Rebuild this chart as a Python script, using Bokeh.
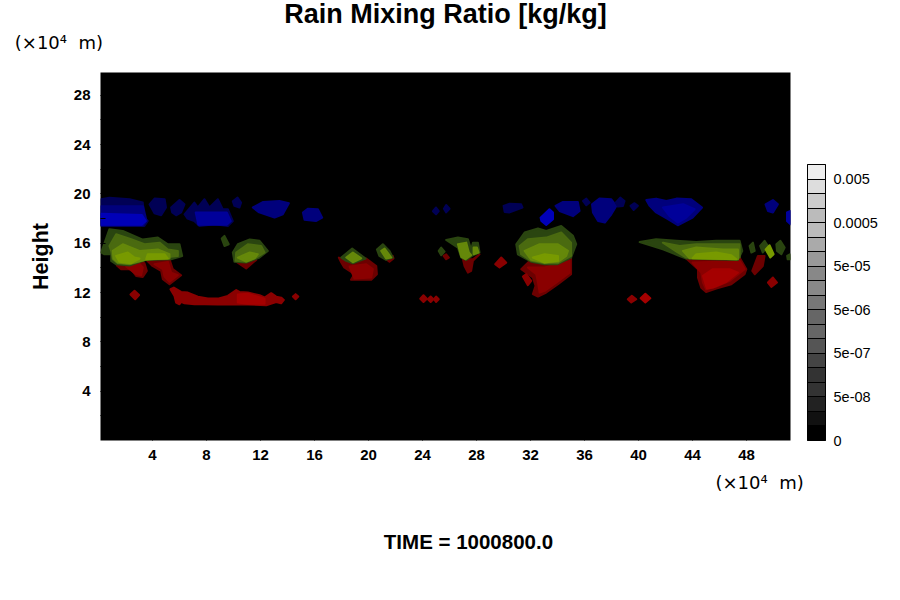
from bokeh.embed import file_html
from bokeh.models import ColorBar, FixedTicker, Label, LinearColorMapper, Range1d
from bokeh.plotting import figure
from bokeh.resources import INLINE

# rain outlines, x and height in units of 10^4 m
# each family goes from faint outer shapes to bright inner ones
red_xs = [
    [1.36, 2.42, 2.91, 3.41, 3.58, 3.28, 2.79, 2.42, 1.68],
    [3.58, 5.26, 5.5, 6.12, 5.26, 4.77, 4.64, 4.0],
    [10.2, 11.68, 10.94],
    [17.8, 18.35, 18.84, 19.83, 20.57, 20.62, 20.2, 18.7, 18.96, 18.2, 17.98],
    [21.38, 21.8, 21.85, 21.55],
    [26.99, 27.73, 28.22, 27.73, 27.6, 27.36, 27.11],
    [25.56, 25.75, 25.95, 25.75],
    [31.31, 31.93, 33.04, 34.03, 35.0, 35.0, 34.03, 33.16, 32.55, 32.17, 32.37, 32.17],
    [43.53, 47.36, 47.48, 47.98, 47.85, 46.87, 45.75, 45.0, 44.64, 44.4, 44.4],
    [48.42, 48.84, 49.33, 49.2, 48.6],
    [2.05, 2.91, 3.28, 3.16, 2.79],
    [4.15, 5.14, 5.38, 5.88, 5.26, 4.89, 4.77],
    [18.6, 19.83, 20.32, 20.2, 18.96],
    [31.8, 33.04, 34.89, 34.89, 33.9, 33.04, 32.67, 32.55, 32.42],
    [44.0, 47.48, 47.85, 46.74, 45.75, 45.0, 44.77, 44.64],
    [44.77, 45.5, 46.74, 47.36, 46.5, 45.5, 45.06],
    [2.37, 2.67, 3.01, 2.72],
    [5.33, 5.58, 6.12, 6.62, 7.36, 8.1, 8.84, 9.58, 10.2, 10.44, 11.06, 11.93, 12.3, 12.79, 13.16,
     13.53, 13.73, 13.53, 13.16, 12.42, 11.06, 9.83, 8.84, 7.85, 7.11, 6.37, 6.12, 6.0, 5.75, 5.63],
    [10.32, 11.06, 12.3, 12.3, 11.06, 10.32],
    [14.4, 14.6, 14.8, 14.6],
    [23.83, 24.07, 24.32, 24.07],
    [24.4, 24.6, 24.8, 24.6],
    [24.84, 25.0, 25.2, 25.0],
    [29.38, 29.83, 30.2, 29.7],
    [31.43, 31.68, 32.05, 31.8],
    [39.2, 39.5, 39.83, 39.46],
    [40.15, 40.5, 40.87, 40.5],
    [49.58, 49.95, 50.25, 49.83],
]
red_ys = [
    [14.2, 14.3, 14.76, 14.38, 13.76, 13.27, 13.35, 13.9, 13.9],
    [14.62, 14.7, 13.9, 13.4, 12.68, 13.08, 13.76, 14.16],
    [14.5, 14.65, 13.95],
    [14.84, 14.5, 14.38, 14.76, 14.16, 13.49, 13.03, 13.03, 13.49, 14.03, 14.43],
    [14.65, 14.97, 14.76, 14.5],
    [14.7, 14.7, 15.1, 14.57, 13.76, 13.62, 14.16],
    [14.97, 15.1, 14.84, 14.7],
    [13.9, 14.57, 14.22, 14.3, 14.84, 13.49, 12.68, 12.0, 11.68, 11.87, 12.54, 13.22],
    [14.76, 14.65, 14.84, 13.9, 13.49, 12.68, 12.33, 12.05, 12.4, 13.2, 13.9],
    [13.76, 14.97, 14.97, 14.16, 13.49],
    [14.11, 14.49, 14.03, 13.41, 13.49],
    [14.3, 14.49, 13.62, 13.4, 12.87, 13.3, 13.9],
    [14.11, 14.3, 13.9, 13.22, 13.14],
    [14.03, 14.03, 14.57, 13.62, 12.81, 12.14, 12.0, 12.81, 13.49],
    [14.43, 14.57, 13.9, 12.95, 12.49, 12.27, 12.81, 13.62],
    [13.35, 13.9, 13.9, 13.62, 12.87, 12.41, 12.33],
    [11.84, 12.14, 11.8, 11.46],
    [12.27, 12.4, 12.05, 12.0, 11.67, 11.51, 11.51, 11.73, 12.2, 12.05, 12.0, 11.78, 11.6, 11.95, 11.67,
     11.59, 11.4, 11.13, 11.24, 10.97, 11.03, 11.05, 11.03, 11.05, 11.05, 11.13, 11.24, 11.05, 11.19, 11.73],
    [11.85, 11.9, 11.5, 11.1, 11.1, 11.2],
    [11.68, 11.87, 11.68, 11.46],
    [11.5, 11.78, 11.5, 11.24],
    [11.46, 11.68, 11.46, 11.24],
    [11.46, 11.68, 11.46, 11.24],
    [14.3, 14.84, 14.43, 14.03],
    [13.3, 13.49, 12.95, 12.6],
    [11.46, 11.73, 11.46, 11.2],
    [11.54, 11.9, 11.54, 11.2],
    [12.81, 13.22, 12.81, 12.46],
]
red_levels = [0, 0, 0, 0, 0, 0, 0, 0, 0, 0, 1, 1, 1, 1, 1, 2, 1, 1, 2, 1, 1, 1, 1, 1, 1, 1, 2, 1]

green_xs = [
    [0.2, 0.81, 1.8, 3.28, 4.4, 5.14, 6.0, 6.2, 5.38, 3.53, 2.3, 1.3, 0.94, 0.94, 0.44],
    [9.95, 10.32, 11.2, 11.93, 12.54, 11.93, 10.94, 10.07],
    [17.98, 18.79, 19.78, 18.84, 18.35],
    [20.62, 21.06, 21.55, 21.8, 21.3, 20.8],
    [9.13, 9.33, 9.65, 9.33],
    [25.2, 25.38, 25.63, 25.38],
    [25.75, 26.62, 27.36, 27.6, 27.73, 28.1, 28.22, 27.73, 27.24, 26.87, 26.62],
    [30.94, 31.56, 32.55, 33.16, 34.27, 35.14, 35.38, 35.0, 34.0, 33.04, 32.05, 31.06],
    [40.08, 41.3, 42.8, 44.27, 45.75, 47.48, 47.68, 47.36, 43.53, 42.9, 41.8],
    [48.22, 48.47, 48.6, 48.35],
    [49.0, 49.33, 49.58, 49.2],
    [50.2, 50.5, 50.82, 50.57, 50.25],
    [51.0, 51.2, 51.25, 51.04],
    [0.81, 1.31, 2.42, 3.41, 4.52, 5.14, 5.88, 5.88, 3.65, 2.3, 1.43, 1.06, 0.94],
    [10.2, 11.06, 12.05, 12.3, 11.68, 10.94, 10.15],
    [31.19, 31.8, 33.16, 34.27, 35.0, 35.0, 34.03, 33.04, 32.05, 31.3],
    [41.8, 43.04, 44.27, 46.25, 47.48, 47.48, 43.53, 42.9],
    [1.06, 1.8, 3.04, 4.4, 5.26, 5.26, 3.53, 2.3, 1.43, 1.11],
    [10.32, 11.2, 11.8, 11.56, 10.94],
    [18.35, 18.84, 19.46, 18.84],
    [20.94, 21.19, 21.68, 21.3],
    [26.62, 27.24, 27.43, 27.6, 27.19, 26.87],
    [27.78, 28.03, 28.15, 27.78],
    [31.56, 32.67, 34.03, 34.77, 34.64, 34.03, 33.04, 32.05],
    [43.28, 44.27, 46.25, 47.36, 47.36, 43.78],
    [49.41, 49.7, 50.0, 49.75],
    [1.31, 2.17, 2.67, 3.04, 2.42, 1.55],
    [3.65, 4.89, 5.14, 3.53],
    [32.17, 33.04, 34.03, 34.03, 33.04],
    [44.27, 45.75, 46.87, 47.24, 44.0],
]
green_ys = [
    [15.25, 17.14, 17.0, 16.3, 16.46, 15.92, 15.92, 14.97, 14.7, 14.65, 14.2, 14.3, 14.57, 15.1, 15.1],
    [15.25, 15.92, 16.3, 16.2, 15.38, 14.84, 14.43, 14.5],
    [14.84, 15.57, 14.76, 14.38, 14.57],
    [15.5, 15.92, 15.38, 14.84, 14.65, 14.97],
    [16.38, 16.6, 15.92, 15.78],
    [15.38, 15.65, 15.32, 15.03],
    [16.27, 16.46, 16.33, 15.5, 16.05, 16.05, 15.25, 15.03, 14.65, 14.84, 15.65],
    [15.92, 16.87, 17.2, 17.0, 17.4, 16.6, 15.92, 14.84, 14.3, 14.3, 14.5, 15.1],
    [16.1, 16.33, 16.2, 16.1, 16.2, 16.2, 15.38, 14.65, 14.76, 15.03, 15.5],
    [15.78, 16.05, 15.38, 15.25],
    [15.78, 16.2, 15.78, 15.25],
    [15.92, 16.2, 15.65, 15.11, 15.38],
    [14.97, 15.11, 14.7, 14.7],
    [15.78, 16.73, 16.33, 15.92, 16.05, 15.5, 15.38, 14.97, 14.7, 14.3, 14.38, 14.7, 15.38],
    [15.25, 15.92, 15.78, 15.25, 14.84, 14.49, 14.57],
    [15.78, 16.33, 16.46, 16.87, 16.05, 14.97, 14.38, 14.38, 14.57, 15.11],
    [16.05, 15.78, 15.92, 15.92, 15.92, 14.84, 14.84, 15.25],
    [15.38, 15.92, 15.38, 15.5, 15.11, 14.76, 14.68, 14.33, 14.43, 14.76],
    [14.84, 15.25, 15.11, 14.78, 14.51],
    [14.84, 15.25, 14.78, 14.46],
    [15.38, 15.57, 14.84, 14.76],
    [15.92, 16.05, 15.25, 15.03, 14.7, 14.89],
    [15.65, 15.65, 15.25, 15.11],
    [15.38, 15.92, 15.92, 15.38, 14.97, 14.49, 14.43, 14.65],
    [15.38, 15.65, 15.5, 15.5, 14.7, 14.78],
    [15.5, 15.84, 15.11, 14.84],
    [14.97, 15.25, 14.84, 14.76, 14.38, 14.49],
    [15.11, 15.11, 14.76, 14.7],
    [14.84, 15.11, 14.97, 14.57, 14.43],
    [15.11, 15.25, 15.03, 14.7, 14.78],
]
green_levels = [0, 0, 0, 0, 0, 0, 0, 0, 0, 0, 0, 0, 0, 1, 1, 1, 1, 2, 2, 2, 2, 2, 2, 2, 2, 3, 3, 3, 3, 3]

blue_xs = [
    [0.2, 0.81, 2.3, 3.28, 3.4, 3.65, 3.4, 0.2],
    [3.78, 4.15, 4.9, 5.0, 4.64, 4.15],
    [5.38, 6.0, 6.37, 6.12, 5.75, 5.46],
    [6.37, 7.1, 7.36, 7.85, 8.22, 8.84, 9.2, 9.58, 9.95, 9.58, 8.6, 7.48, 7.1, 6.6],
    [9.95, 10.3, 10.56, 10.44, 10.07],
    [11.43, 12.2, 13.4, 14.1, 13.65, 13.04, 11.9],
    [15.14, 15.5, 16.25, 16.57, 16.1, 15.26],
    [24.77, 25.0, 25.2, 25.0],
    [25.58, 25.75, 26.0, 25.75],
    [30.0, 30.45, 31.3, 31.4, 30.45, 30.08],
    [33.85, 34.4, 35.5, 35.63, 35.14, 34.15],
    [35.88, 36.13, 36.37, 36.13],
    [36.55, 37.1, 37.98, 38.35, 37.98, 37.5, 37.0, 36.62],
    [38.3, 38.64, 38.96, 38.84, 38.47],
    [39.4, 39.7, 39.95, 39.63],
    [40.57, 41.3, 42.05, 42.8, 43.9, 44.7, 44.0, 42.9, 42.17, 41.3, 40.82],
    [49.4, 49.95, 50.32, 49.95, 49.58],
    [50.99, 51.25, 51.25, 50.99],
    [0.2, 3.3, 3.55, 3.3, 0.2],
    [7.2, 9.5, 9.8, 9.5, 7.4],
    [41.8, 43.3, 44.15, 43.53, 42.9, 42.3],
    [0.2, 3.2, 3.5, 3.2, 0.2],
    [32.74, 33.4, 33.66, 33.66, 33.16, 32.8],
]
blue_ys = [
    [19.57, 19.7, 19.57, 19.3, 18.08, 17.8, 17.4, 17.4],
    [19.16, 19.62, 19.57, 18.9, 18.27, 18.43],
    [18.9, 19.5, 19.16, 18.5, 18.27, 18.5],
    [18.35, 19.3, 18.9, 19.57, 18.9, 19.57, 18.76, 18.76, 17.8, 17.4, 17.54, 17.4, 17.8, 18.0],
    [19.4, 19.7, 19.3, 18.9, 19.03],
    [18.9, 19.35, 19.43, 19.25, 18.35, 18.08, 18.5],
    [18.5, 18.8, 18.76, 18.08, 17.8, 17.9],
    [18.6, 18.9, 18.6, 18.35],
    [18.8, 19.1, 18.8, 18.5],
    [19.03, 19.2, 19.16, 18.9, 18.5, 18.54],
    [19.03, 19.35, 19.35, 18.62, 18.2, 18.62],
    [19.43, 19.62, 19.3, 19.08],
    [19.16, 19.62, 19.57, 19.03, 18.35, 17.68, 17.8, 18.5],
    [19.3, 19.7, 19.43, 19.03, 18.97],
    [19.03, 19.25, 19.03, 18.7],
    [19.5, 19.62, 19.43, 19.62, 19.57, 18.9, 18.08, 17.46, 17.95, 18.5, 19.03],
    [19.16, 19.5, 19.16, 18.5, 18.62],
    [18.5, 18.62, 17.54, 17.8],
    [19.0, 19.0, 17.85, 17.45, 17.45],
    [18.5, 18.5, 17.8, 17.5, 17.5],
    [18.9, 19.16, 18.76, 18.08, 17.68, 18.2],
    [18.4, 18.3, 17.8, 17.5, 17.5],
    [18.08, 18.76, 18.5, 17.95, 17.49, 17.8],
]
blue_levels = [0, 0, 0, 0, 0, 1, 1, 0, 0, 0, 1, 0, 1, 0, 0, 1, 1, 2, 1, 2, 2, 3, 3]

red_shades = ["#6c0000", "#8a0000", "#a50000"]
green_shades = ["#2a4510", "#4a6a10", "#65880a", "#789a00"]
blue_shades = ["#000055", "#00007c", "#00009a", "#0000b8"]

x_ticks = [4, 8, 12, 16, 20, 24, 28, 32, 36, 40, 44, 48]
y_ticks = [4, 8, 12, 16, 20, 24, 28]
y_minor_ticks = [2, 6, 10, 14, 18, 22, 26]

bar_shades = ["#000000", "#111111", "#222222", "#333333", "#333333", "#444444", "#555555", "#666666",
              "#666666", "#777777", "#888888", "#888888", "#999999", "#aaaaaa", "#bbbbbb", "#bbbbbb",
              "#cccccc", "#dddddd", "#eeeeee"]
bar_labels = {0: "0", 3: "5e-08", 6: "5e-07", 9: "5e-06", 12: "5e-05", 15: "0.0005", 18: "0.005"}

FONT = "Liberation Sans"
UNIT = "(×10⁴\u00a0\u00a0m)"

p = figure(width=884, height=584, output_backend="svg", toolbar_location=None,
           x_range=Range1d(0.15, 51.25), y_range=Range1d(0, 29.85),
           background_fill_color="black", border_fill_color="white",
           min_border_left=100, min_border_right=94, min_border_top=72, min_border_bottom=144)
p.grid.visible = False
p.outline_line_color = None

# round thin outline in the same colour takes the corners off the shapes
for xs, ys, levels, shades in [(red_xs, red_ys, red_levels, red_shades),
                               (green_xs, green_ys, green_levels, green_shades),
                               (blue_xs, blue_ys, blue_levels, blue_shades)]:
    colors = [shades[i] for i in levels]
    p.patches(xs, ys, fill_color=colors, line_color=colors, line_width=2, line_join="round")

p.xaxis.ticker = FixedTicker(ticks=x_ticks)
p.yaxis.ticker = FixedTicker(ticks=y_ticks, minor_ticks=y_minor_ticks)
p.yaxis.axis_label = "Height"
p.yaxis.axis_label_text_font = FONT
p.yaxis.axis_label_text_font_size = "21.5px"
p.yaxis.axis_label_text_font_style = "bold"
p.yaxis.axis_label_text_color = "black"
p.yaxis.axis_label_standoff = 18
for axis in (p.xaxis, p.yaxis):
    axis.axis_line_color = None
    axis.major_tick_out = 0
    axis.major_tick_in = 5
    axis.minor_tick_out = 0
    axis.minor_tick_in = 5
    axis.major_tick_line_color = "black"
    axis.minor_tick_line_color = "black"
    axis.major_label_text_font = FONT
    axis.major_label_text_font_size = "15px"
    axis.major_label_text_font_style = "bold"
    axis.major_label_text_color = "black"
p.xaxis.major_label_standoff = 9
p.yaxis.major_label_standoff = 10

mapper = LinearColorMapper(palette=bar_shades, low=0, high=19)
bar_ticks = list(range(20))
bar = ColorBar(color_mapper=mapper, ticker=FixedTicker(ticks=bar_ticks),
               major_label_overrides={i: bar_labels.get(i, "") for i in bar_ticks},
               width=18, height=276, location=(707, 0), padding=0, margin=0,
               bar_line_color="black", major_tick_line_color="black",
               major_tick_in=18, major_tick_out=0, minor_tick_line_color=None,
               border_line_color=None, background_fill_color=None, label_standoff=8,
               major_label_text_font=FONT, major_label_text_font_size="14.5px",
               major_label_text_color="black")
p.add_layout(bar)

# a Label in the center panel gets clipped to the frame, in a side panel it does not
for text, x, y, place, font, size, style in [
        ("Rain Mixing Ratio [kg/kg]", 25.7, 34.57, "above", FONT, "27px", "bold"),
        (UNIT, -2.93, 32.26, "above", "DejaVu Sans", "18px", "normal"),
        (UNIT, 48.96, -3.38, "below", "DejaVu Sans", "18px", "normal"),
        ("TIME = 1000800.0", 27.4, -8.17, "below", FONT, "20.5px", "bold")]:
    p.add_layout(Label(x=x, y=y, text=text, text_font=font, text_font_size=size, text_font_style=style,
                       text_align="center", text_baseline="middle", text_color="black"), place)

open("out.html", "w").write(file_html(p, INLINE))
